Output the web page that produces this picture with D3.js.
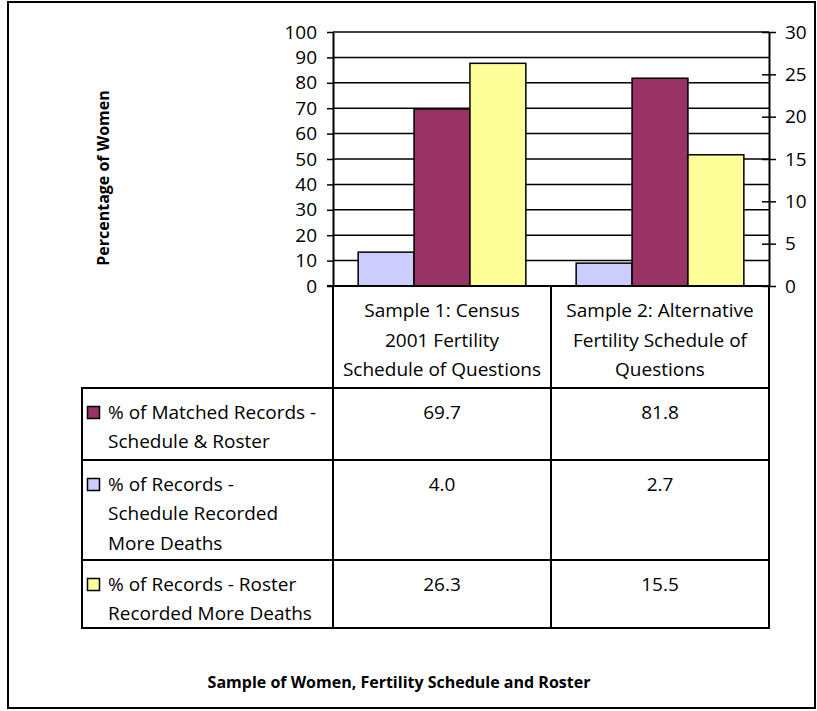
<!DOCTYPE html>
<html>
<head>
<meta charset="utf-8">
<script src="https://cdn.jsdelivr.net/npm/d3@7"></script>
<style>
  body { margin: 0; background: #fff; }
  svg text { font-family: "Open Sans", "DejaVu Sans", sans-serif; fill: #000; }
</style>
</head>
<body>
<script>
// data
var categories = [
  ["Sample 1: Census", "2001 Fertility", "Schedule of Questions"],
  ["Sample 2: Alternative", "Fertility Schedule of", "Questions"]
];
var seriesNames = ["matched", "schedule", "roster"];
var seriesLabels = [
  ["% of Matched Records -", "Schedule & Roster"],
  ["% of Records -", "Schedule Recorded", "More Deaths"],
  ["% of Records - Roster", "Recorded More Deaths"]
];
var matchedValues = [69.7, 81.8];   // left axis
var scheduleValues = [4.0, 2.7];    // right axis
var rosterValues = [26.3, 15.5];    // right axis
var valueLabels = [["69.7", "81.8"], ["4.0", "2.7"], ["26.3", "15.5"]];
var leftTicks = [0, 10, 20, 30, 40, 50, 60, 70, 80, 90, 100];
var rightTicks = [0, 5, 10, 15, 20, 25, 30];
var barOrder = ["schedule", "matched", "roster"];

var colors = { matched: "#993366", schedule: "#CCCCFF", roster: "#FFFF99" };
var values = { matched: matchedValues, schedule: scheduleValues, roster: rosterValues };
var onRight = { matched: false, schedule: true, roster: true };

// layout
var W = 817, H = 711;
var plot = { left: 333, right: 769, top: 32, bottom: 286 };
var tableLeft = 82;
var rowEdges = [286, 388, 460, 560, 628]; // header row, then one row per series
var fs = "19px";

var svg = d3.select("body").append("svg").attr("width", W).attr("height", H);

// outer frame
svg.append("rect").attr("x", 8).attr("y", 2).attr("width", 807).attr("height", 706)
  .attr("fill", "none").attr("stroke", "#000").attr("stroke-width", 2);

var x = d3.scaleBand().domain(d3.range(categories.length)).range([plot.left, plot.right]);
var xs = d3.scaleBand().domain(barOrder).range([0, x.bandwidth()]).paddingOuter(0.45);
var yL = d3.scaleLinear().domain([0, 100]).range([plot.bottom, plot.top]);
var yR = d3.scaleLinear().domain([0, 30]).range([plot.bottom, plot.top]);

// gridlines
svg.append("g").selectAll("line").data(leftTicks.slice(1)).enter().append("line")
  .attr("x1", plot.left).attr("x2", plot.right)
  .attr("y1", function(d) { return yL(d); }).attr("y2", function(d) { return yL(d); })
  .attr("stroke", "#000").attr("stroke-width", 1.5);

// bars
var groups = svg.append("g").selectAll("g").data(categories).enter().append("g")
  .attr("transform", function(d, i) { return "translate(" + x(i) + ",0)"; });
groups.each(function(c, i) {
  var g = d3.select(this);
  barOrder.forEach(function(s) {
    var sc = onRight[s] ? yR : yL;
    var v = values[s][i];
    g.append("rect")
      .attr("x", xs(s)).attr("width", xs.bandwidth())
      .attr("y", sc(v)).attr("height", sc(0) - sc(v))
      .attr("fill", colors[s]).attr("stroke", "#000").attr("stroke-width", 1.5);
  });
});

// axes
var ax = svg.append("g").attr("transform", "translate(" + plot.left + ",0)")
  .call(d3.axisLeft(yL).tickValues(leftTicks).tickSize(6).tickSizeOuter(0).tickPadding(10));
var axR = svg.append("g").attr("transform", "translate(" + plot.right + ",0)")
  .call(d3.axisRight(yR).tickValues(rightTicks).tickSize(7).tickSizeOuter(0).tickPadding(9));
axR.selectAll(".tick line").attr("x1", -7);
[ax, axR].forEach(function(a) {
  a.select(".domain").attr("stroke-width", 2);
  a.selectAll(".tick line").attr("stroke-width", 1.5);
  a.selectAll(".tick text").style("font-size", fs).attr("fill", "#000")
    .style("font-family", "'Open Sans', sans-serif");
});
svg.append("line").attr("x1", plot.left - 6).attr("x2", plot.right)
  .attr("y1", plot.bottom).attr("y2", plot.bottom).attr("stroke", "#000").attr("stroke-width", 2);

// data table
var tbl = svg.append("g");
var vlines = [plot.left].concat(categories.map(function(d, i) { return x(i) + x.bandwidth(); }));
vlines.forEach(function(vx) {
  tbl.append("line").attr("x1", vx).attr("x2", vx).attr("y1", rowEdges[0]).attr("y2", rowEdges[rowEdges.length - 1])
    .attr("stroke", "#000").attr("stroke-width", 2);
});
tbl.append("line").attr("x1", tableLeft).attr("x2", tableLeft).attr("y1", rowEdges[1]).attr("y2", rowEdges[rowEdges.length - 1])
  .attr("stroke", "#000").attr("stroke-width", 2);
rowEdges.slice(1).forEach(function(ry) {
  tbl.append("line").attr("x1", tableLeft - 1).attr("x2", plot.right + 1).attr("y1", ry).attr("y2", ry)
    .attr("stroke", "#000").attr("stroke-width", 2);
});

var lineH = 29.5;
// header: category labels
categories.forEach(function(lines, i) {
  var t = tbl.append("text").attr("text-anchor", "middle").style("font-size", fs);
  lines.forEach(function(l, k) {
    t.append("tspan").attr("x", x(i) + x.bandwidth() / 2).attr("y", rowEdges[0] + 31 + k * lineH).text(l);
  });
});
// series rows
seriesNames.forEach(function(s, r) {
  var top = rowEdges[r + 1];
  tbl.append("rect").attr("x", 87.5).attr("y", top + 18.5).attr("width", 12).attr("height", 12)
    .attr("fill", colors[s]).attr("stroke", "#000").attr("stroke-width", 1.5);
  var t = tbl.append("text").style("font-size", fs);
  seriesLabels[r].forEach(function(l, k) {
    t.append("tspan").attr("x", 108).attr("y", top + 30.5 + k * lineH).text(l);
  });
  valueLabels[r].forEach(function(v, i) {
    tbl.append("text").attr("text-anchor", "middle").style("font-size", fs)
      .attr("x", x(i) + x.bandwidth() / 2).attr("y", top + 30.5).text(v);
  });
});

// titles
svg.append("text").attr("transform", "translate(109,178) rotate(-90)")
  .attr("text-anchor", "middle").style("font-size", "16px").style("font-weight", "bold")
  .text("Percentage of Women");
svg.append("text").attr("x", 399).attr("y", 688)
  .attr("text-anchor", "middle").style("font-size", "16px").style("font-weight", "bold")
  .text("Sample of Women, Fertility Schedule and Roster");
</script>
</body>
</html>
